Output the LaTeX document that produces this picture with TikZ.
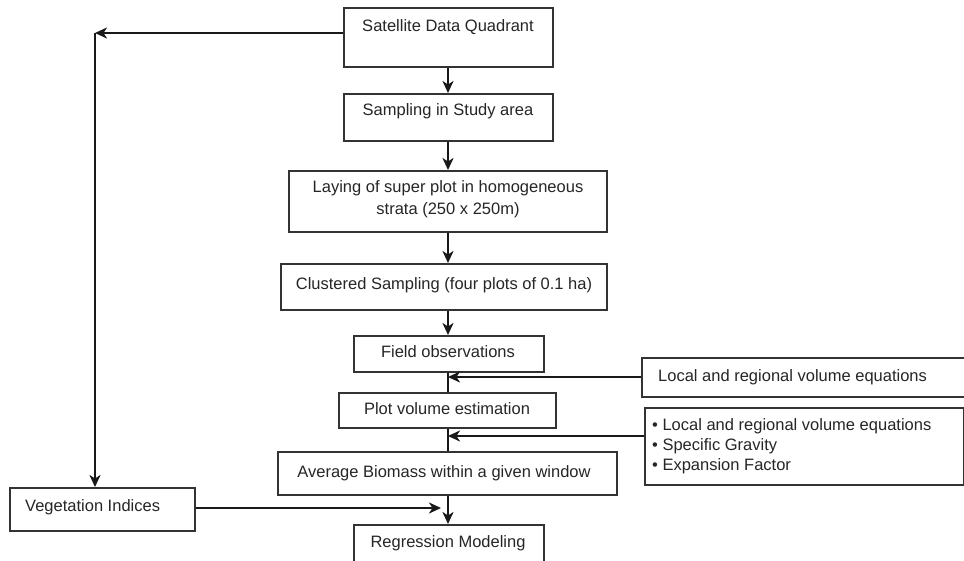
\documentclass[tikz,border=0pt]{standalone}
\usepackage{fontspec}
\setmainfont{Liberation Sans}
\usetikzlibrary{arrows.meta}
\begin{document}
\begin{tikzpicture}[x=1pt,y=-1pt,
  boxline/.style={draw=black!80, line width=1.5pt, inner sep=0pt, anchor=north west},
  txt/.style={text=black!85, font=\fontsize{16.5}{22}\selectfont, inner sep=0pt},
  conn/.style={draw=black!90, line width=2pt},
  arr/.style={conn, -{Stealth[length=12pt,width=11pt,inset=3.5pt]}}]
\useasboundingbox (0,0) rectangle (964,560);
\fill[white] (0,0) rectangle (964,560);
% boxes
\node[boxline, minimum width=209pt, minimum height=59pt] (sat) at (343,7) {};
\node[boxline, minimum width=209pt, minimum height=47pt] (samp) at (343,93) {};
\node[boxline, minimum width=318pt, minimum height=61pt] (lay) at (288,170) {};
\node[boxline, minimum width=326pt, minimum height=46pt] (clus) at (280,263) {};
\node[boxline, minimum width=190pt, minimum height=36pt] (field) at (353,335) {};
\node[boxline, minimum width=323pt, minimum height=39pt] (local) at (641,357) {};
\node[boxline, minimum width=217pt, minimum height=35pt] (plot) at (338,392) {};
\node[boxline, minimum width=319pt, minimum height=77pt] (bul) at (644,407) {};
\node[boxline, minimum width=339pt, minimum height=43pt] (avg) at (277,451) {};
\node[boxline, minimum width=185pt, minimum height=43pt] (veg) at (9,487) {};
\node[boxline, minimum width=190pt, minimum height=42pt] (reg) at (353,524) {};
% texts
\node[txt] (tsat) at (448,27) {Satellite Data Quadrant};
\node[txt] (tsamp) at (448,111) {Sampling in Study area};
\node[txt, align=center] (tlay) at (448,199) {Laying of super plot in homogeneous\\strata (250 x 250m)};
\node[txt] (tclus) at (444,285) {Clustered Sampling (four plots of 0.1 ha)};
\node[txt] (tfield) at (448,352) {Field observations};
\node[txt, anchor=west] (tlocal) at (658,377) {Local and regional volume equations};
\node[txt] (tplot) at (447,409) {Plot volume estimation};
\node[txt, anchor=west, align=left, font=\fontsize{16.5}{20}\selectfont] (tbul) at (652,446) {• Local and regional volume equations\\• Specific Gravity\\• Expansion Factor};
\node[txt] (tavg) at (444,473) {Average Biomass within a given window};
\node[txt, anchor=west] (tveg) at (25,507) {Vegetation Indices};
\node[txt] (treg) at (448,543) {Regression Modeling};
% connector points
\coordinate (corner) at (95,33);
\coordinate (j1) at (448,377);
\coordinate (j2) at (448,436);
\coordinate (j3) at (441,508);
% connectors
\draw[arr] (sat.west |- corner) -- (corner);
\draw[arr] (corner) -- (veg.north -| corner);
\draw[arr] (sat.south -| 448,0) -- (samp.north -| 448,0);
\draw[arr] (samp.south -| 448,0) -- (lay.north -| 448,0);
\draw[arr] (lay.south -| 448,0) -- (clus.north -| 448,0);
\draw[arr] (clus.south -| 448,0) -- (field.north -| 448,0);
\draw[conn] (field.south -| 448,0) -- (plot.north -| 448,0);
\draw[arr] (local.west |- j1) -- (j1);
\draw[conn] (plot.south -| 448,0) -- (avg.north -| 448,0);
\draw[arr] (bul.west |- j2) -- (j2);
\draw[arr] (avg.south -| 448,0) -- (reg.north -| 448,0);
\draw[arr] (veg.east |- j3) -- (j3);
\end{tikzpicture}
\end{document}
